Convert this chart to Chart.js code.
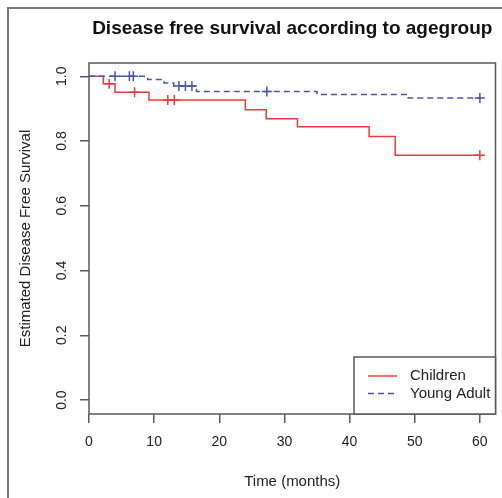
<!DOCTYPE html>
<html>
<head>
<meta charset="utf-8">
<script src="https://cdn.jsdelivr.net/npm/chart.js@4.4.0/dist/chart.umd.min.js"></script>
<style>
  html, body { margin: 0; padding: 0; background: #fff; }
  #wrap { position: relative; width: 502px; height: 498px; }
  #frame { position: absolute; left: 7px; top: 7px; right: 0; bottom: 0;
           border-left: 2px solid #7a7a7a; border-top: 2px solid #7a7a7a; pointer-events: none; }
</style>
</head>
<body>
<div id="wrap">
  <canvas id="km"></canvas>
  <div id="frame"></div>
</div>
<script>
// Kaplan-Meier curves
const childTime = [0, 2.2, 4.0, 9.2, 24.0, 27.2, 32.0, 43.0, 47.0, 60];
const childSurv = [1.0, 0.977, 0.951, 0.927, 0.897, 0.869, 0.844, 0.814, 0.756, 0.756];
const childCensTime = [3.1, 7.0, 12.1, 13.1, 60];
const childCensSurv = [0.977, 0.951, 0.927, 0.927, 0.756];

const youngTime = [0, 9.0, 11.5, 13.0, 16.5, 35.0, 49.0, 60];
const youngSurv = [1.0, 0.990, 0.979, 0.970, 0.953, 0.944, 0.933, 0.933];
const youngCensTime = [4.0, 6.2, 6.8, 13.8, 14.8, 15.8, 27.3, 60];
const youngCensSurv = [1.0, 1.0, 1.0, 0.970, 0.970, 0.970, 0.953, 0.933];

const xTicks = [0, 10, 20, 30, 40, 50, 60];
const yTicks = [0, 0.2, 0.4, 0.6, 0.8, 1.0];
const groups = ['Children', 'Young Adult'];

const RED = '#f03a3a';
const BLUE = '#4a57a8';
const FONT = '"Liberation Sans", Arial, sans-serif';

const pts = (xs, ys) => xs.map((x, i) => ({ x: x, y: ys[i] }));

// titles, rotated y labels, box and legend in the R style
const rStyle = {
  id: 'rStyle',
  afterDraw(chart) {
    const ctx = chart.ctx;
    const a = chart.chartArea;
    const ys = chart.scales.y;
    ctx.save();
    ctx.strokeStyle = '#5a5a5a';
    ctx.lineWidth = 1.5;
    ctx.strokeRect(a.left, a.top, a.right - a.left, a.bottom - a.top);

    ctx.fillStyle = '#222';
    ctx.font = '14px ' + FONT;
    ctx.textAlign = 'center';
    ctx.textBaseline = 'middle';
    yTicks.forEach(v => {
      ctx.save();
      ctx.translate(62, ys.getPixelForValue(v));
      ctx.rotate(-Math.PI / 2);
      ctx.fillText(v.toFixed(1), 0, 0);
      ctx.restore();
    });
    ctx.font = '15px ' + FONT;
    ctx.save();
    ctx.translate(26, (a.top + a.bottom) / 2);
    ctx.rotate(-Math.PI / 2);
    ctx.fillText('Estimated Disease Free Survival', 0, 0);
    ctx.restore();
    ctx.fillText('Time (months)', (a.left + a.right) / 2, 482);

    ctx.fillStyle = '#111';
    ctx.font = 'bold 19px ' + FONT;
    ctx.fillText('Disease free survival according to agegroup', (a.left + a.right) / 2, 29);

    // legend box in the lower right corner
    const lx = 354, ly = 357;
    ctx.fillStyle = '#fff';
    ctx.fillRect(lx, ly, a.right - lx, a.bottom - ly);
    ctx.strokeStyle = '#5a5a5a';
    ctx.lineWidth = 1.5;
    ctx.strokeRect(lx, ly, a.right - lx, a.bottom - ly);
    const cols = [RED, BLUE];
    const dashes = [[], [6, 4]];
    groups.forEach((g, i) => {
      const yy = 376 + i * 17.5;
      ctx.strokeStyle = cols[i];
      ctx.lineWidth = 1.5;
      ctx.setLineDash(dashes[i]);
      ctx.beginPath();
      ctx.moveTo(368, yy);
      ctx.lineTo(397, yy);
      ctx.stroke();
      ctx.setLineDash([]);
      ctx.fillStyle = '#222';
      ctx.font = '15px ' + FONT;
      ctx.textAlign = 'left';
      ctx.fillText(g, 410, yy);
    });
    ctx.restore();
  }
};

new Chart(document.getElementById('km'), {
  type: 'scatter',
  data: {
    datasets: [
      { label: groups[1], data: pts(youngTime, youngSurv), showLine: true, stepped: 'before',
        borderColor: BLUE, borderWidth: 1.5, borderDash: [6, 4], pointRadius: 0, order: 1 },
      { label: groups[1] + ' censored', data: pts(youngCensTime, youngCensSurv), pointStyle: 'cross',
        pointRadius: 5, borderColor: BLUE, borderWidth: 1.5, order: 0 },
      { label: groups[0], data: pts(childTime, childSurv), showLine: true, stepped: 'before',
        borderColor: RED, borderWidth: 1.5, pointRadius: 0, order: 3 },
      { label: groups[0] + ' censored', data: pts(childCensTime, childCensSurv), pointStyle: 'cross',
        pointRadius: 5, borderColor: RED, borderWidth: 1.5, order: 2 }
    ]
  },
  options: {
    responsive: true,
    maintainAspectRatio: false,
    animation: false,
    layout: { padding: { top: 63, right: 6, left: 0, bottom: 0 } },
    plugins: { legend: { display: false }, tooltip: { enabled: false } },
    scales: {
      x: {
        type: 'linear', min: 0, max: 62.4,
        afterBuildTicks: s => { s.ticks = xTicks.map(v => ({ value: v })); },
        afterFit: s => { s.height = 84; },
        grid: { drawOnChartArea: false, drawTicks: true, tickLength: 9, color: '#5a5a5a', lineWidth: 1.5 },
        border: { display: false },
        ticks: { color: '#222', font: { family: FONT, size: 14 }, padding: 11, maxRotation: 0 }
      },
      y: {
        type: 'linear', min: -0.043, max: 1.041,
        afterBuildTicks: s => { s.ticks = yTicks.map(v => ({ value: v })); },
        afterFit: s => { s.width = 89; },
        grid: { drawOnChartArea: false, drawTicks: true, tickLength: 9, color: '#5a5a5a', lineWidth: 1.5 },
        border: { display: false },
        ticks: { display: false }
      }
    }
  },
  plugins: [rStyle]
});
</script>
</body>
</html>
